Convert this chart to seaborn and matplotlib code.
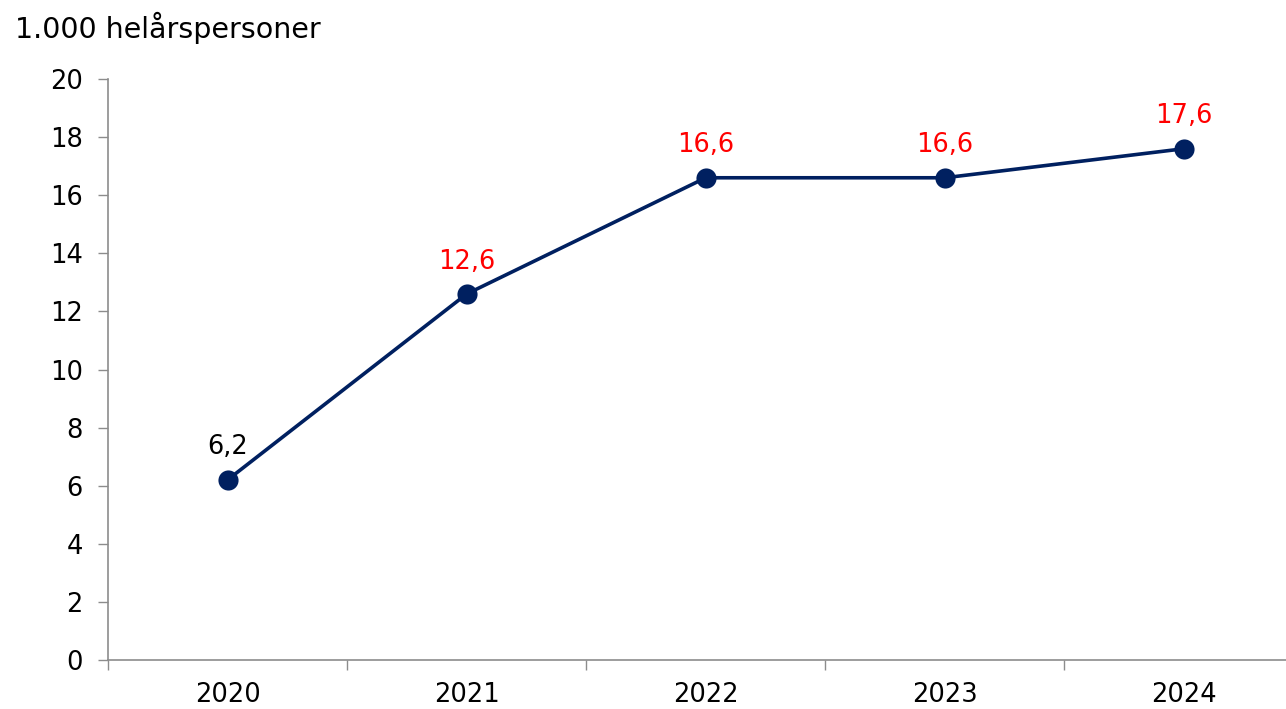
import matplotlib
matplotlib.use("Agg")
import matplotlib.pyplot as plt
import seaborn as sns
import pandas as pd

# data
years = ["2020", "2021", "2022", "2023", "2024"]
values = [6.2, 12.6, 16.6, 16.6, 17.6]
labels = ["6,2", "12,6", "16,6", "16,6", "17,6"]
label_colors = ["black", "red", "red", "red", "red"]

df = pd.DataFrame({"year": years, "value": values})

sns.set_style("white")
plt.rcParams["font.family"] = ["DejaVu Sans"]
plt.rcParams["text.color"] = "black"
plt.rcParams["xtick.labelcolor"] = "black"
plt.rcParams["ytick.labelcolor"] = "black"

fig = plt.figure(figsize=(12.86, 7.09), dpi=100)
ax = fig.add_axes([108 / 1286, 49 / 709, 1195.5 / 1286, 581 / 709])

sns.lineplot(data=df, x="year", y="value", ax=ax, color="#002060",
             linewidth=2.6, marker="o", markersize=14.5, markeredgewidth=0,
             sort=False)

for i, (v, lab, c) in enumerate(zip(values, labels, label_colors)):
    ax.annotate(lab, (i, v), xytext=(0, 14), textcoords="offset points",
                ha="center", va="bottom", color=c, fontsize=18.5)

ax.set_ylim(0, 20)
ax.set_yticks(range(0, 21, 2))
ax.set_xlim(-0.5, 4.5)
ax.set_xticks(range(len(years)))
ax.set_xticklabels(years)
ax.set_xticks([i - 0.5 for i in range(len(years) + 1)], minor=True)
ax.tick_params(axis="x", which="major", length=0, pad=16, labelsize=18.5)
ax.tick_params(axis="x", which="minor", length=7, width=1, color="#8c8c8c",
               direction="out", bottom=True)
ax.tick_params(axis="y", length=7, width=1, color="#8c8c8c", direction="out",
               left=True, pad=11, labelsize=18.5)
ax.set_xlabel("")
ax.set_ylabel("")

for s in ["top", "right"]:
    ax.spines[s].set_visible(False)
for s in ["left", "bottom"]:
    ax.spines[s].set_color("#8c8c8c")
    ax.spines[s].set_linewidth(1.2)

fig.text(15 / 1286, 1 - 28 / 709, "1.000 helårspersoner", fontsize=20.5,
         ha="left", va="center")

fig.savefig("out.png", dpi=100)
